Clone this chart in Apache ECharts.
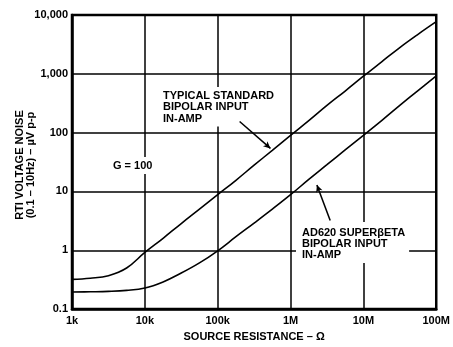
<!DOCTYPE html>
<html>
<head>
<meta charset="utf-8">
<script src="https://cdn.jsdelivr.net/npm/echarts@6/dist/echarts.min.js"></script>
<style>
html,body{margin:0;padding:0;background:#fff;}
#c{width:453px;height:347px;}
</style>
</head>
<body>
<div id="c"></div>
<script>
// Source resistance (ohms), read at quarter-decade steps
const resistance = [1e3, 1.78e3, 3.16e3, 5.62e3, 1e4, 1.78e4, 3.16e4, 5.62e4, 1e5, 1.78e5, 3.16e5, 5.62e5,
  1e6, 1.78e6, 3.16e6, 5.62e6, 1e7, 1.78e7, 3.16e7, 5.62e7, 1e8];
// Typical standard bipolar input in-amp (uV p-p)
const typicalNoise = [0.32, 0.335, 0.37, 0.5, 0.92, 1.6, 2.85, 5.0, 8.8, 15.5, 28, 50,
  90, 160, 290, 510, 910, 1600, 2800, 4700, 7700];
// AD620 superbeta bipolar input in-amp (uV p-p)
const ad620Noise = [0.195, 0.197, 0.2, 0.208, 0.228, 0.29, 0.41, 0.61, 0.98, 1.7, 2.9, 5.0,
  8.8, 16, 28.5, 51, 90, 160, 290, 520, 920];

const xTickLabels = {1e3:'1k', 1e4:'10k', 1e5:'100k', 1e6:'1M', 1e7:'10M', 1e8:'100M'};
const yTickLabels = {0.1:'0.1', 1:'1', 10:'10', 100:'100', 1000:'1,000', 10000:'10,000'};

const FONT = 'bold 11px "Liberation Sans", Arial, sans-serif';

function keyOf(v){ return Number(v.toPrecision(6)); }

const chart = echarts.init(document.getElementById('c'), null, {renderer:'canvas'});
chart.setOption({
  animation: false,
  backgroundColor: '#fff',
  grid: {left: 72, right: 12, top: 15, bottom: 33, show: true, borderColor: '#000', borderWidth: 2.5, backgroundColor: 'transparent'},
  xAxis: {
    type: 'log', logBase: 10, min: 1e3, max: 1e8,
    axisLine: {show: true, lineStyle: {color: '#000', width: 2.5}},
    axisTick: {show: false},
    splitLine: {show: true, lineStyle: {color: '#000', width: 1.5}},
    axisLabel: {margin: 6, color: '#000', fontFamily: '"Liberation Sans", Arial, sans-serif', fontWeight: 'bold', fontSize: 11,
      formatter: v => xTickLabels[keyOf(v)] || ''},
    name: 'SOURCE RESISTANCE – Ω', nameLocation: 'middle', nameGap: 20,
    nameTextStyle: {color: '#000', fontFamily: '"Liberation Sans", Arial, sans-serif', fontWeight: 'bold', fontSize: 11}
  },
  yAxis: {
    type: 'log', logBase: 10, min: 0.1, max: 10000,
    axisLine: {show: true, lineStyle: {color: '#000', width: 2.5}},
    axisTick: {show: false},
    splitLine: {show: true, lineStyle: {color: '#000', width: 1.5}},
    axisLabel: {margin: 4, color: '#000', fontFamily: '"Liberation Sans", Arial, sans-serif', fontWeight: 'bold', fontSize: 11,
      formatter: v => yTickLabels[keyOf(v)] || ''}
  },
  series: [
    {
      type: 'line', data: resistance.map((r, i) => [r, typicalNoise[i]]),
      smooth: 0.4, showSymbol: false, symbol: 'none',
      lineStyle: {color: '#000', width: 1.6}, z: 3,
      markLine: {
        silent: true, symbol: ['none', 'arrow'], symbolSize: [5, 7],
        lineStyle: {color: '#000', width: 1.5, type: 'solid'}, label: {show: false},
        data: [[{coord: [2.0e5, 155]}, {coord: [5.3e5, 54]}]]
      }
    },
    {
      type: 'line', data: resistance.map((r, i) => [r, ad620Noise[i]]),
      smooth: 0.4, showSymbol: false, symbol: 'none',
      lineStyle: {color: '#000', width: 1.6}, z: 3,
      markLine: {
        silent: true, symbol: ['none', 'arrow'], symbolSize: [5, 7],
        lineStyle: {color: '#000', width: 1.5, type: 'solid'}, label: {show: false},
        data: [[{coord: [3.5e6, 3.2]}, {coord: [2.3e6, 12.9]}]]
      }
    }
  ],
  graphic: [
    {type: 'text', left: 160, top: 87, z: 2,
      style: {text: 'TYPICAL STANDARD\nBIPOLAR INPUT\nIN-AMP', font: FONT, fill: '#000', lineHeight: 11.5,
        backgroundColor: '#fff', padding: [3, 3, 2, 3]}},
    {type: 'text', left: 110, top: 157, z: 2,
      style: {text: 'G = 100', font: FONT, fill: '#000', backgroundColor: '#fff', padding: [3, 3, 3, 3]}},
    {type: 'text', left: 296, top: 222, z: 2,
      style: {text: 'AD620 SUPERβETA\nBIPOLAR INPUT\nIN-AMP', font: FONT, fill: '#000', lineHeight: 11,
        backgroundColor: '#fff', padding: [5, 4, 3, 6]}},
    {type: 'text', x: 25, y: 165, rotation: Math.PI / 2, z: 2,
      style: {text: 'RTI VOLTAGE NOISE\n(0.1 – 10Hz) – µV p-p', font: FONT, fill: '#000', lineHeight: 11,
        textAlign: 'center', textVerticalAlign: 'middle'}}
  ]
});
</script>
</body>
</html>
